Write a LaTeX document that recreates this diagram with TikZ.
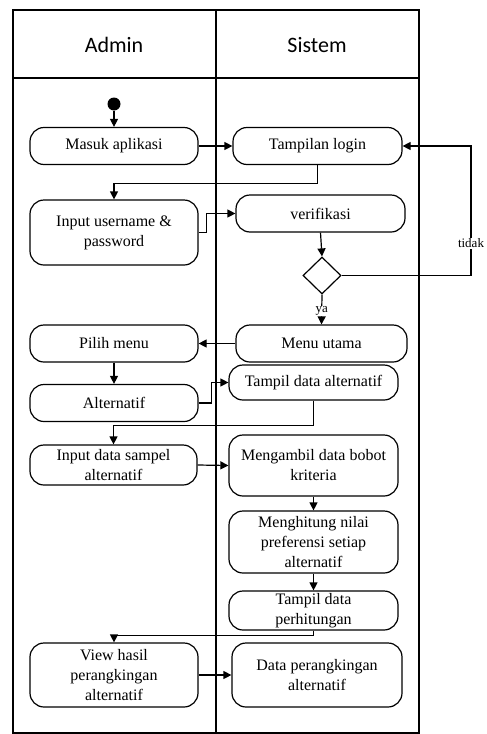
\documentclass[tikz,border=0pt]{standalone}
\usepackage{fontspec}
\setmainfont{Liberation Serif}
\newfontfamily\hdrfont{Carlito}
\usetikzlibrary{arrows.meta,shapes.geometric}

\tikzset{
  lane/.style={line width=1.8pt},
  act/.style={draw, line width=1.2pt, rounded corners=14pt, align=center,
    inner sep=0pt, font=\fontsize{16}{20}\selectfont},
  decision/.style={draw, diamond, line width=1.2pt, inner sep=0pt,
    minimum width=38pt, minimum height=37pt},
  flow/.style={line width=1.2pt, -{Triangle[length=8pt,width=8pt]}},
  guard/.style={fill=white, inner sep=1pt, font=\fontsize{13}{14}\selectfont},
  hdr/.style={font=\hdrfont\fontsize{22}{24}\selectfont}
}

\begin{document}
\begin{tikzpicture}[x=1pt,y=-1pt]
\useasboundingbox (0,0) rectangle (487,734);

% swimlane frame
\draw[lane] (13,10) rectangle (419,733);
\draw[lane] (216,10) -- (216,733);
\draw[lane] (13,78) -- (419,78);
\node[hdr] (hadmin) at (114,45) {Admin};
\node[hdr] (hsistem) at (317,45) {Sistem};

% start node
\node[circle, fill=black, minimum size=13pt, inner sep=0pt] (start) at (114,104) {};

% activities: Admin lane
\node[act, minimum width=168pt, minimum height=37pt] (masuk) at (114,146) {Masuk aplikasi};
\node[act, minimum width=168pt, minimum height=65pt] (input) at (114,232.5) {Input username \&\\password};
\node[act, minimum width=168pt, minimum height=37pt] (pilih) at (114,343.5) {Pilih menu};
\node[act, minimum width=168pt, minimum height=37pt] (alt) at (114,403) {Alternatif};
\node[act, minimum width=167pt, minimum height=40pt] (sampel) at (113.5,465) {Input data sampel\\alternatif};
\node[act, minimum width=168pt, minimum height=64pt] (view) at (114,675) {View hasil\\perangkingan\\alternatif};

% activities: Sistem lane
\node[act, minimum width=169pt, minimum height=37pt] (login) at (317.5,146) {Tampilan login};
\node[act, minimum width=169pt, minimum height=37pt] (verif) at (320.5,213.5) {verifikasi};
\node[decision] (dec) at (322,275.5) {};
\node[act, minimum width=171pt, minimum height=37pt] (menu) at (321.5,343.5) {Menu utama};
\node[act, minimum width=169pt, minimum height=35pt] (tampilalt) at (313.5,382.5) {Tampil data alternatif};
\node[act, minimum width=169pt, minimum height=61pt] (ambil) at (313.5,465.5) {Mengambil data bobot\\kriteria};
\node[act, minimum width=169pt, minimum height=62pt] (hitung) at (313.5,542) {Menghitung nilai\\preferensi setiap\\alternatif};
\node[act, minimum width=169pt, minimum height=39pt] (tampilhitung) at (313.5,610.5) {Tampil data\\perhitungan};
\node[act, minimum width=170pt, minimum height=64pt] (rank) at (317,675) {Data perangkingan\\alternatif};

\coordinate (loop) at (471,146);

% control flow
\draw[flow] (start) -- (masuk.north);
\draw[flow] (masuk.east) -- (login.west);
\draw[flow] (login.south) -- ++(0,18.5) -| (input.north);
\draw[flow] (input.east) -- ++(8,0) |- (verif.west);
\draw[flow] (verif.south) -- (dec.north);
\draw[flow] (dec.east) -| node[guard, pos=0.625] {tidak} (loop) -- (login.east);
\draw[flow] (dec.south) -- node[guard, pos=0.55] {ya} (menu.north);
\draw[flow] (menu.west) -- (pilih.east);
\draw[flow] (pilih.south) -- (alt.north);
\draw[flow] (alt.east) -- ++(13,0) |- (tampilalt.west);
\draw[flow] (tampilalt.south) -- ++(0,25) -| (sampel.north);
\draw[flow] (sampel.east) -- (ambil.west);
\draw[flow] (ambil.south) -- (hitung.north);
\draw[flow] (hitung.south) -- (tampilhitung.north);
\draw[flow] (tampilhitung.south) -- ++(0,5) -| (view.north);
\draw[flow] (view.east) -- (rank.west);
\end{tikzpicture}
\end{document}
